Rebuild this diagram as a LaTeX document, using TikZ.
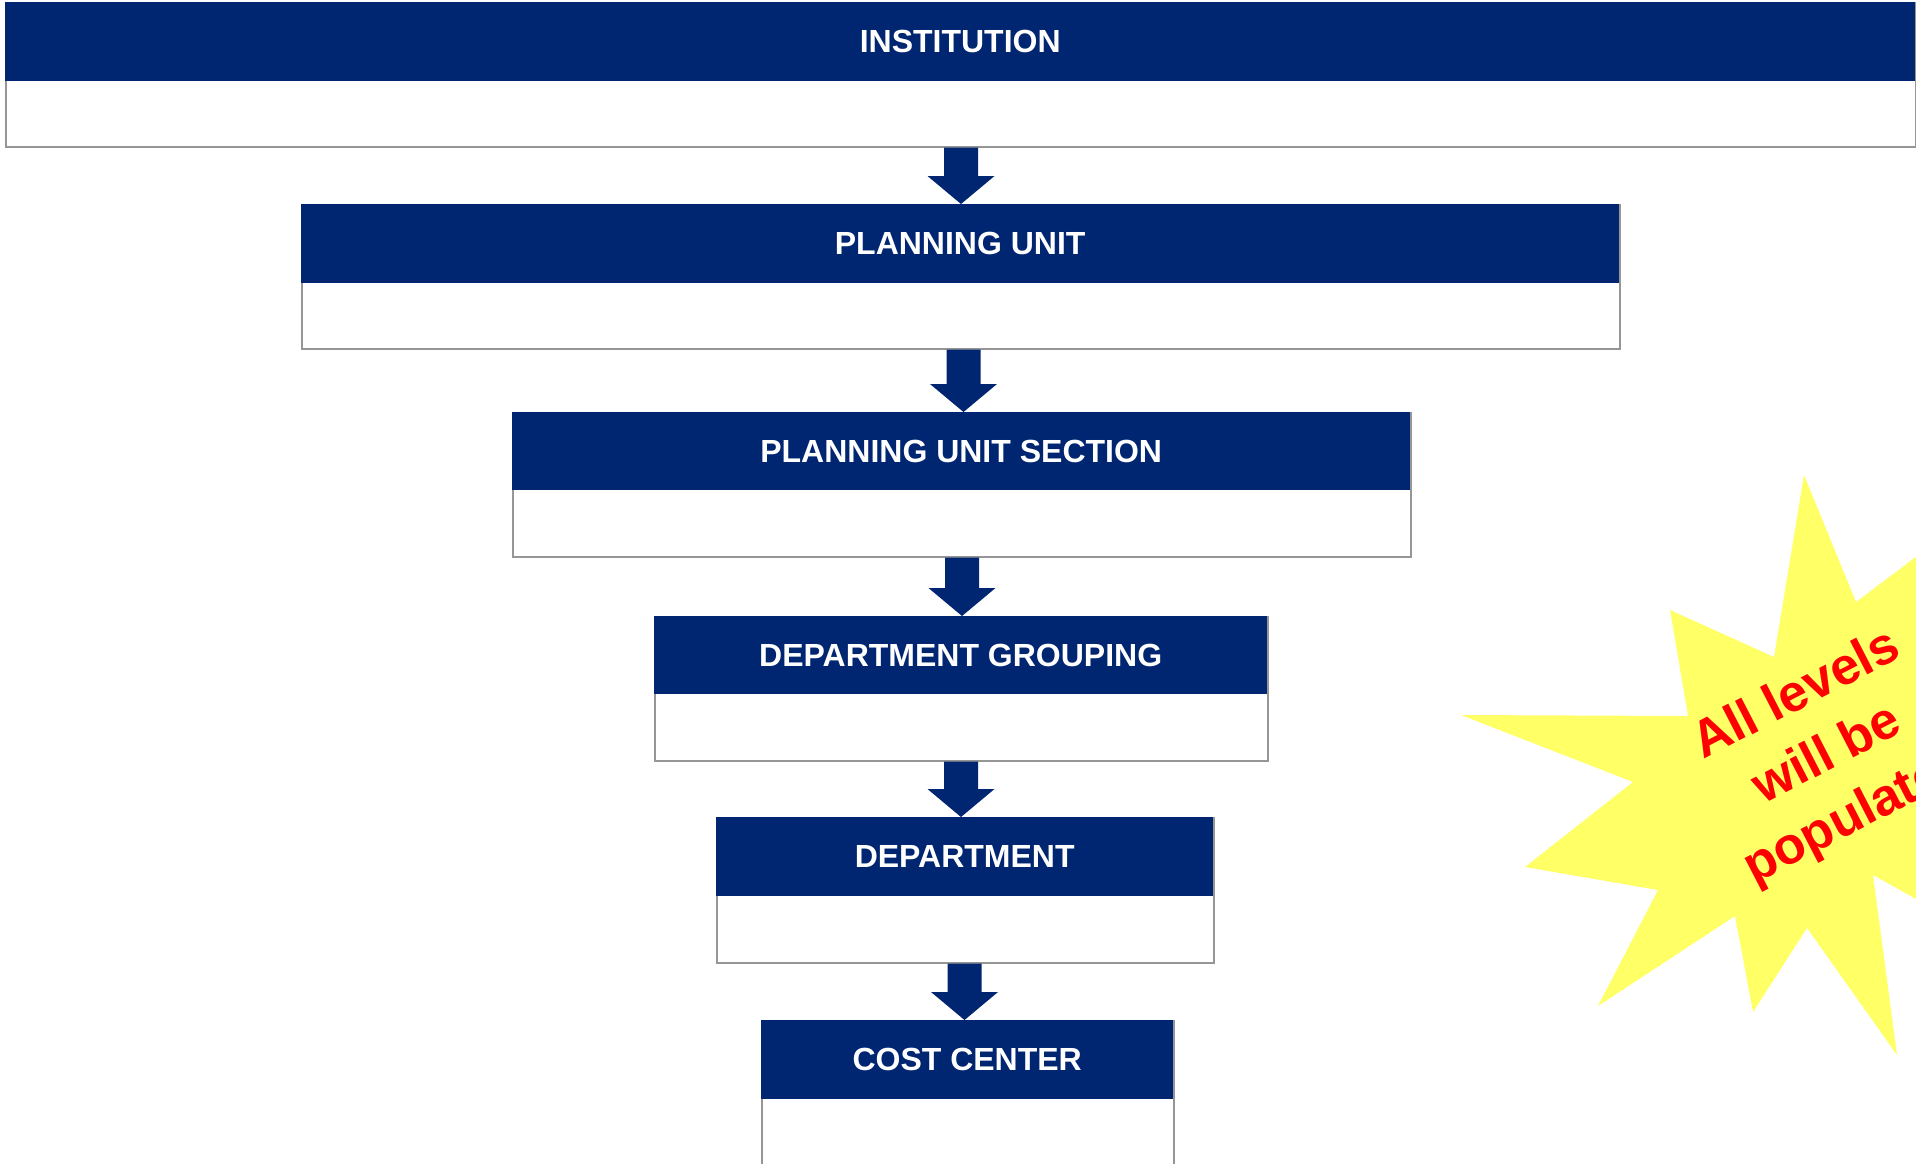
\documentclass[tikz,border=0pt]{standalone}
\usepackage{fontspec}
\setmainfont{Liberation Sans}
\usetikzlibrary{calc}
\definecolor{navy}{RGB}{0,37,113}
\definecolor{boxgray}{RGB}{150,150,150}
\definecolor{staryellow}{RGB}{255,255,102}
\tikzset{
  hdr/.style={fill=navy, text=white, inner sep=0pt, anchor=north west,
    font=\bfseries\fontsize{32}{38}\selectfont},
  bodybox/.style={draw=boxgray, line width=1.6pt, fill=white, inner sep=0pt, anchor=north west},
  blockarrow/.style={fill=navy},
  burst/.style={fill=staryellow},
  bursttext/.style={text=red, rotate=27.3, align=center, inner sep=0pt,
    font=\bfseries\fontsize{52}{67}\selectfont},
}
\newcommand{\levelbox}[7]{% name, x1, x2, ytop, ymid, ybot, label
  \node[bodybox, minimum width={(#3-#2)*1pt}, minimum height={(#6-#4)*1pt}] (#1body) at (#2,#4) {};
  \node[hdr, minimum width={(#3-#2)*1pt}, minimum height={(#5-#4)*1pt}] (#1) at (#2,#4) {#7};
}
\newcommand{\levelarrow}[3]{% x, upper box, lower box
  \fill[blockarrow] let \p1=(#2body.south), \p2=(#3.north) in
    (#1-17,\y1) -- (#1+17,\y1) -- (#1+17,\y2+28) -- (#1+33.5,\y2+28)
    -- (#1,\y2) -- (#1-33.5,\y2+28) -- (#1-17,\y2+28) -- cycle;
}
\begin{document}
\begin{tikzpicture}[x=1pt,y=-1pt]
\useasboundingbox (0,0) rectangle (1916,1163);
\clip (0,0) rectangle (1916,1163);
\fill[white] (0,0) rectangle (1916,1163);

% star burst
\fill[burst] (1804,475) -- (1856,602) -- (1985,505) -- (2060,700) -- (1990,940)
  -- (1873,875) -- (1897,1055) -- (1807,928) -- (1753,1012) -- (1735,916)
  -- (1598,1006) -- (1658,890) -- (1525,867) -- (1633,782) -- (1461,715)
  -- (1688,716) -- (1670,610) -- (1774,657) -- cycle;
\node[bursttext] (note) at (1827.8,755.8) {All levels\\will be\\populated};

% boxes
\levelbox{inst}{5}{1915}{2}{81}{146}{INSTITUTION}
\levelbox{pu}{301}{1619}{204}{283}{348}{PLANNING UNIT}
\levelbox{pus}{512}{1410}{412}{490}{556}{PLANNING UNIT SECTION}
\levelbox{dg}{654}{1267}{616}{694}{760}{DEPARTMENT GROUPING}
\levelbox{dep}{716}{1213}{817}{896}{962}{DEPARTMENT}
\levelbox{cc}{761}{1173}{1020}{1099}{1180}{COST CENTER}

% arrows
\levelarrow{961}{inst}{pu}
\levelarrow{963.5}{pu}{pus}
\levelarrow{962}{pus}{dg}
\levelarrow{961}{dg}{dep}
\levelarrow{964.5}{dep}{cc}
\end{tikzpicture}
\end{document}
